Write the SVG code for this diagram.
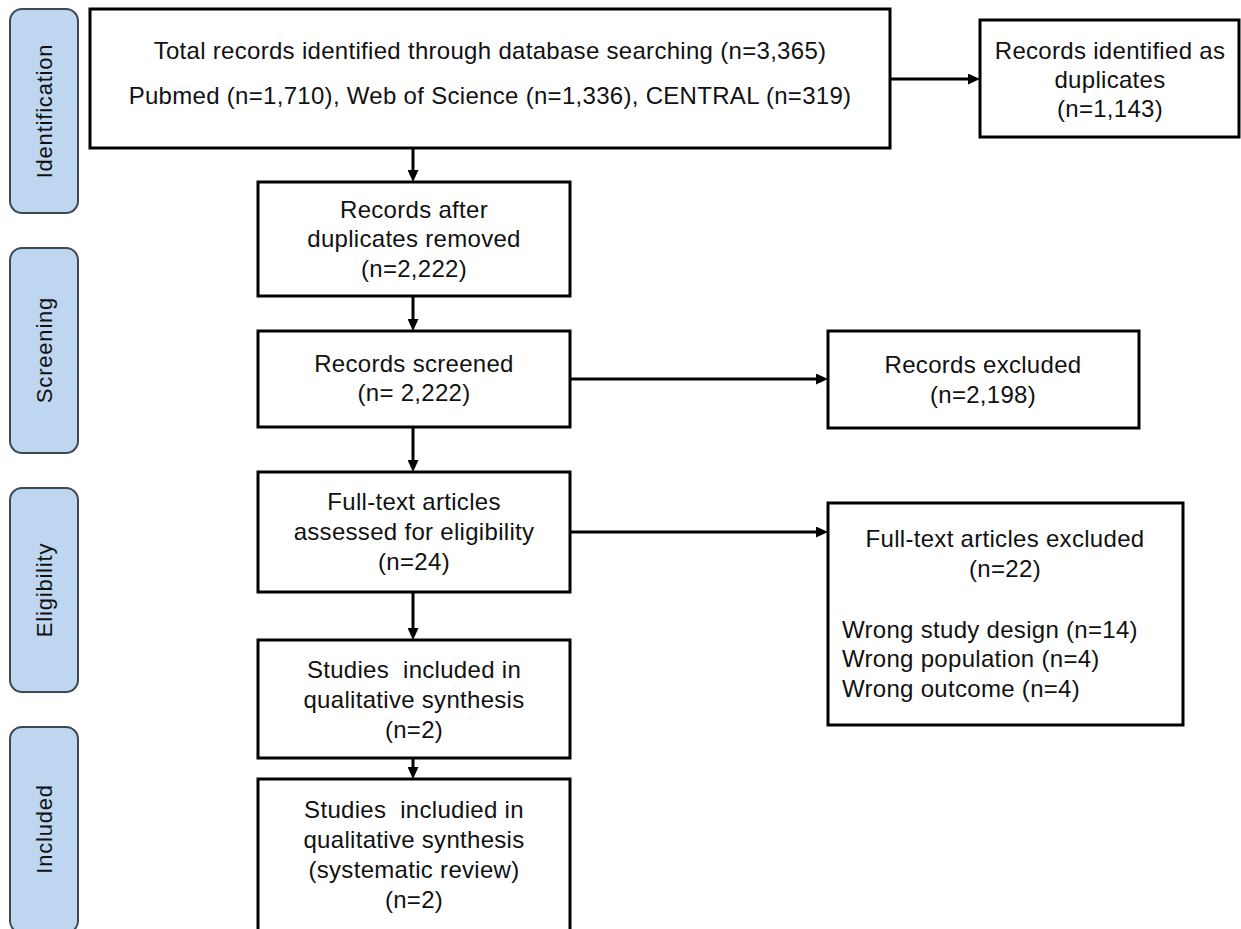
<svg xmlns="http://www.w3.org/2000/svg" width="1241" height="929" viewBox="0 0 1241 929">
<style>
.bg{fill:#ffffff}
.box{fill:#ffffff;stroke:#000000;stroke-width:3}
.bar{fill:#bed6ef;stroke:#3d4752;stroke-width:2}
.t{font-family:"Liberation Sans",Arial,Helvetica,sans-serif;font-size:24px;letter-spacing:0.3px;fill:#111111;text-anchor:middle}
.tl{text-anchor:start}
.bt{font-family:"Liberation Sans",Arial,Helvetica,sans-serif;font-size:22px;letter-spacing:0.8px;fill:#111111;text-anchor:middle}
.c{stroke:#000000;stroke-width:3;fill:none;marker-end:url(#ah)}
</style>
<defs>
<marker id="ah" markerUnits="userSpaceOnUse" viewBox="0 0 12 11" refX="2" refY="5.5" markerWidth="12" markerHeight="11" orient="auto">
<path d="M0,0 L12,5.5 L0,11 z" fill="#000000"/>
</marker>
</defs>
<rect class="bg" x="0" y="0" width="1241" height="929"/>

<g id="stage-identification">
<rect class="bar" x="10" y="9" width="68" height="204" rx="12"/>
<text class="bt" transform="translate(52,111) rotate(-90)">Identification</text>
</g>
<g id="stage-screening">
<rect class="bar" x="10" y="248" width="68" height="205" rx="12"/>
<text class="bt" transform="translate(52,350) rotate(-90)">Screening</text>
</g>
<g id="stage-eligibility">
<rect class="bar" x="10" y="488" width="68" height="204" rx="12"/>
<text class="bt" transform="translate(52,590) rotate(-90)">Eligibility</text>
</g>
<g id="stage-included">
<rect class="bar" x="10" y="727" width="68" height="206" rx="12"/>
<text class="bt" transform="translate(52,829) rotate(-90)">Included</text>
</g>

<g id="connectors">
<line class="c" x1="890" y1="79" x2="970" y2="79"/>
<line class="c" x1="413" y1="148" x2="413" y2="172"/>
<line class="c" x1="413" y1="296" x2="413" y2="321"/>
<line class="c" x1="413" y1="427" x2="413" y2="462"/>
<line class="c" x1="413" y1="592" x2="413" y2="630"/>
<line class="c" x1="413" y1="758" x2="413" y2="769"/>
<line class="c" x1="570" y1="379" x2="818" y2="379"/>
<line class="c" x1="570" y1="532" x2="818" y2="532"/>
</g>

<g id="node-total">
<rect class="box" x="90" y="9" width="800" height="139"/>
<text class="t" x="490" y="59">Total records identified through database searching (n=3,365)</text>
<text class="t" x="490" y="104">Pubmed (n=1,710), Web of Science (n=1,336), CENTRAL (n=319)</text>
</g>
<g id="node-duplicates">
<rect class="box" x="980" y="20" width="259" height="117"/>
<text class="t" x="1110" y="59">Records identified as</text>
<text class="t" x="1110" y="88">duplicates</text>
<text class="t" x="1110" y="117">(n=1,143)</text>
</g>
<g id="node-after-dup">
<rect class="box" x="258" y="182" width="312" height="114"/>
<text class="t" x="414" y="218">Records after</text>
<text class="t" x="414" y="247">duplicates removed</text>
<text class="t" x="414" y="277">(n=2,222)</text>
</g>
<g id="node-screened">
<rect class="box" x="258" y="331" width="312" height="96"/>
<text class="t" x="414" y="372">Records screened</text>
<text class="t" x="414" y="401">(n= 2,222)</text>
</g>
<g id="node-records-excluded">
<rect class="box" x="828" y="331" width="311" height="97"/>
<text class="t" x="983" y="373">Records excluded</text>
<text class="t" x="983" y="403">(n=2,198)</text>
</g>
<g id="node-fulltext">
<rect class="box" x="258" y="472" width="312" height="120"/>
<text class="t" x="414" y="510">Full-text articles</text>
<text class="t" x="414" y="540">assessed for eligibility</text>
<text class="t" x="414" y="570">(n=24)</text>
</g>
<g id="node-fulltext-excluded">
<rect class="box" x="828" y="503" width="355" height="222"/>
<text class="t" x="1005" y="547">Full-text articles excluded</text>
<text class="t" x="1005" y="577">(n=22)</text>
<text class="t tl" x="842" y="638">Wrong study design (n=14)</text>
<text class="t tl" x="842" y="667">Wrong population (n=4)</text>
<text class="t tl" x="842" y="697">Wrong outcome (n=4)</text>
</g>
<g id="node-qualitative">
<rect class="box" x="258" y="640" width="312" height="118"/>
<text class="t" x="414" y="678" xml:space="preserve">Studies  included in</text>
<text class="t" x="414" y="708">qualitative synthesis</text>
<text class="t" x="414" y="738">(n=2)</text>
</g>
<g id="node-final">
<rect class="box" x="258" y="779" width="312" height="170"/>
<text class="t" x="414" y="818" xml:space="preserve">Studies  includied in</text>
<text class="t" x="414" y="848">qualitative synthesis</text>
<text class="t" x="414" y="878">(systematic review)</text>
<text class="t" x="414" y="908">(n=2)</text>
</g>
</svg>
